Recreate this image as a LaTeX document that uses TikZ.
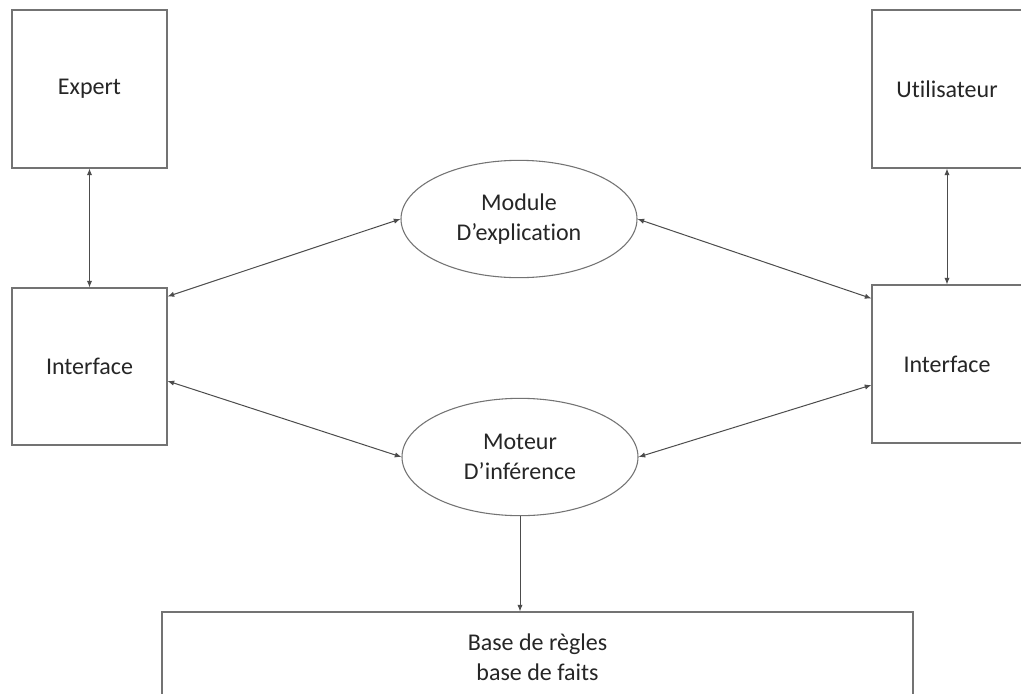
\documentclass[tikz,border=0pt]{standalone}
\usepackage{fontspec}
\setmainfont[Ligatures=NoCommon]{Carlito}
\usetikzlibrary{shapes.geometric,arrows.meta,calc}
\begin{document}
\begin{tikzpicture}[x=0.75pt,y=-0.75pt,
  box/.style={draw=black!55,line width=0.8pt,rectangle,inner sep=0pt,align=center,text=black!85,font=\fontsize{18}{22.5}\selectfont},
  ell/.style={draw=black!55,line width=0.8pt,ellipse,inner sep=0pt,minimum width=177pt,minimum height=88pt,align=center,text=black!85,font=\fontsize{18}{22.5}\selectfont},
  dbl/.style={draw=black!70,line width=0.75pt,{Latex[length=5pt,width=4pt]}-{Latex[length=5pt,width=4pt]}},
  sgl/.style={draw=black!70,line width=0.75pt,-{Latex[length=5pt,width=4pt]}}]
\useasboundingbox (0,0) rectangle (1021,693);
\fill[white] (0,0) rectangle (1021,693);
\node[box,minimum width=116.25pt,minimum height=118.5pt] (exp) at (89.5,89) {Expert};
\node[box,minimum width=112.5pt,minimum height=118.5pt] (usr) at (947,89) {Utilisateur};
\node[box,minimum width=116.25pt,minimum height=117.75pt] (ilft) at (89.5,366.5) {Interface};
\node[box,minimum width=112.5pt,minimum height=118.5pt] (irgt) at (947,364) {Interface};
\node[ell] (mod) at (519,219) {Module\\D’explication};
\node[ell] (mot) at (520,457) {Moteur\\D’inférence};
\node[box,minimum width=563.25pt,minimum height=67.5pt] (base) at (537.5,657) {Base de règles\\base de faits};
\draw[dbl] (exp.south) -- (ilft.north);
\draw[dbl] (usr.south) -- (irgt.north);
\draw[dbl] ($(ilft.north east)+(0,9)$) -- (mod.west);
\draw[dbl] ($(ilft.east)+(0,14.5)$) -- (mot.west);
\draw[dbl] (mod.east) -- ($(irgt.north west)+(0,14)$);
\draw[dbl] (mot.east) -- ($(irgt.west)+(0,21)$);
\draw[sgl] (mot.south) -- (mot.south |- base.north);
\end{tikzpicture}
\end{document}
